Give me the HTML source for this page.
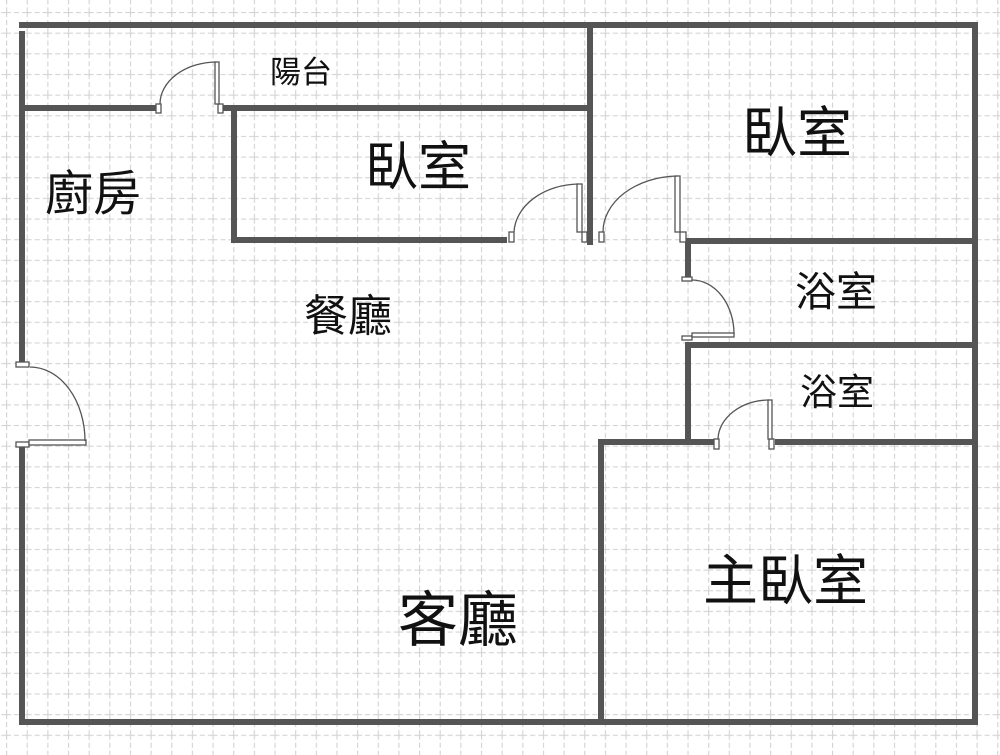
<!DOCTYPE html>
<html><head><meta charset="utf-8"><style>
html,body{margin:0;padding:0;background:#fff;}
svg{display:block}
text{font-family:"Liberation Sans","Noto Sans CJK TC",sans-serif;fill:#111}
</style></head><body>
<svg width="1000" height="755" viewBox="0 0 1000 755" xmlns="http://www.w3.org/2000/svg">
<defs>
<pattern id="g" x="6" y="12" width="20.65" height="20.65" patternUnits="userSpaceOnUse">
<path d="M0.5 0 V20.65 M0 0.5 H20.65" stroke="#d4d4d4" stroke-width="1.3" stroke-dasharray="5 3" fill="none"/>
</pattern>
</defs>
<rect width="1000" height="755" fill="#fff"/>
<rect width="1000" height="755" fill="url(#g)"/>
<g stroke="#555" stroke-width="6" fill="none" stroke-linecap="square">
<line x1="22" y1="25" x2="975" y2="25"/>
<line x1="22" y1="34" x2="22" y2="362"/>
<line x1="22" y1="450" x2="22" y2="722"/>
<line x1="22" y1="722" x2="975" y2="722"/>
<line x1="975" y1="25" x2="975" y2="716"/>
<line x1="25" y1="108" x2="153" y2="108"/>
<line x1="225" y1="108" x2="587" y2="108"/>
<line x1="590" y1="28" x2="590" y2="242"/>
<line x1="234" y1="113" x2="234" y2="240"/>
<line x1="234" y1="240" x2="504" y2="240"/>
<line x1="689" y1="241" x2="972" y2="241"/>
<line x1="688" y1="244" x2="688" y2="276"/>
<line x1="689" y1="345" x2="972" y2="345"/>
<line x1="688" y1="345" x2="688" y2="439"/>
<line x1="601" y1="442" x2="713" y2="442"/>
<line x1="778" y1="442" x2="970" y2="442"/>
<line x1="601" y1="442" x2="601" y2="716"/>
</g>
<g stroke="#555" stroke-width="1.3" fill="#fff">
<rect x="156" y="104" width="5" height="9"/><rect x="218" y="104" width="5" height="9"/>
<rect x="215" y="62" width="4" height="42"/>
<path d="M160 104 A57 42 0 0 1 216 62" fill="none"/>
<rect x="509" y="232" width="5" height="10"/><rect x="582" y="232" width="5" height="10"/>
<rect x="577" y="184" width="5" height="48"/>
<path d="M514 232 A66 50 0 0 1 578 184" fill="none"/>
<rect x="599" y="232" width="5" height="10"/><rect x="680" y="232" width="6" height="10"/>
<rect x="675" y="176" width="5" height="56"/>
<path d="M603 232 A76 56 0 0 1 677 176" fill="none"/>
<rect x="682" y="277" width="10" height="4"/><rect x="682" y="336" width="10" height="4"/>
<rect x="692" y="333" width="42" height="4"/>
<path d="M692 280 A42 54 0 0 1 734 334" fill="none"/>
<rect x="714" y="439" width="5" height="10"/><rect x="769" y="439" width="5" height="10"/>
<rect x="768" y="400" width="4" height="39"/>
<path d="M718 439 A52 40 0 0 1 769 400" fill="none"/>
<rect x="16" y="362" width="13" height="5"/><rect x="16" y="442" width="13" height="5"/>
<rect x="29" y="440" width="57" height="5"/>
<path d="M30 367 A55 74 0 0 1 85 441" fill="none"/>
</g>
<text x="270" y="83" font-size="31">陽台</text>
<text x="365" y="185" font-size="53">臥室</text>
<text x="45" y="210" font-size="48">廚房</text>
<text x="304" y="331" font-size="44">餐廳</text>
<text x="742" y="152" font-size="55">臥室</text>
<text x="795" y="306" font-size="41">浴室</text>
<text x="800" y="405" font-size="37">浴室</text>
<text x="703" y="600" font-size="55">主臥室</text>
<text x="398" y="641" font-size="60">客廳</text>
</svg>
</body></html>
